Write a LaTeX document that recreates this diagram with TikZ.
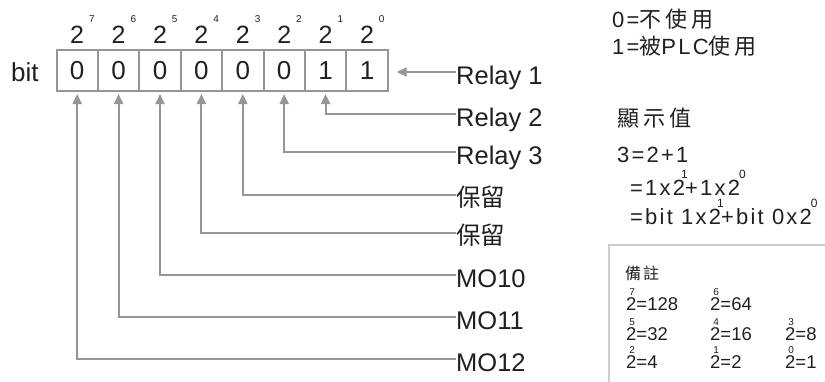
\documentclass[tikz,border=0pt]{standalone}
\usepackage{fontspec}
\setmainfont{Liberation Sans}
\newfontfamily\cjk{Noto Sans CJK TC}
\newfontfamily\rsp[LetterSpace=10]{Liberation Sans}
\newfontfamily\cjksp[LetterSpace=18]{Noto Sans CJK TC}
\usetikzlibrary{arrows.meta}
\definecolor{lg}{RGB}{150,150,150}
\definecolor{lgl}{RGB}{205,205,205}
\definecolor{tx}{RGB}{35,31,32}
\newcommand{\fsz}[1]{\fontsize{#1}{#1}\selectfont}
\newcommand{\supov}[5]{#1\rlap{\kern#2\raisebox{#3}{\fsz{#4}#5}}}
\begin{document}
\begin{tikzpicture}[x=1pt,y=-1pt,
  cell/.style={draw=lg, line width=2pt, minimum width=41.4pt, minimum height=41.5pt, inner sep=0pt, font=\fsz{26}, text=tx},
  conn/.style={draw=lg, line width=2pt, -{Triangle[length=10pt,width=9pt]}},
  lab/.style={anchor=base west, inner sep=0pt, font=\fsz{25.5}, text=tx},
  pow/.style={anchor=base, inner sep=0pt, font=\fsz{25}, text=tx},
  rtxt/.style={anchor=base west, inner sep=0pt, font=\rsp\fsz{22}, text=tx},
  note/.style={anchor=base west, inner sep=0pt, font=\fsz{18.5}, text=tx}]
\useasboundingbox (0,0) rectangle (825,381);
% bit cells
\node[cell] (b7) at (77.2,70.25) {0};
\node[cell] (b6) at (118.6,70.25) {0};
\node[cell] (b5) at (160.0,70.25) {0};
\node[cell] (b4) at (201.4,70.25) {0};
\node[cell] (b3) at (242.8,70.25) {0};
\node[cell] (b2) at (284.2,70.25) {0};
\node[cell] (b1) at (325.6,70.25) {1};
\node[cell] (b0) at (367.0,70.25) {1};
\node[anchor=base west, inner sep=0pt, font=\fsz{26}, text=tx] (bit) at (11,81) {bit};
% powers
\node[pow] (p7) at (77.2,43) {\supov{2}{5pt}{21pt}{10}{7}};
\node[pow] (p6) at (118.6,43) {\supov{2}{5pt}{21pt}{10}{6}};
\node[pow] (p5) at (160.0,43) {\supov{2}{5pt}{21pt}{10}{5}};
\node[pow] (p4) at (201.4,43) {\supov{2}{5pt}{21pt}{10}{4}};
\node[pow] (p3) at (242.8,43) {\supov{2}{5pt}{21pt}{10}{3}};
\node[pow] (p2) at (284.2,43) {\supov{2}{5pt}{21pt}{10}{2}};
\node[pow] (p1) at (325.6,43) {\supov{2}{5pt}{21pt}{10}{1}};
\node[pow] (p0) at (367.0,43) {\supov{2}{5pt}{21pt}{10}{0}};
% label ends
\coordinate (e1) at (456,72);
\coordinate (e2) at (456,114);
\coordinate (e3) at (456,152);
\coordinate (e4) at (456,195);
\coordinate (e5) at (456,233);
\coordinate (e6) at (456,275);
\coordinate (e7) at (456,317);
\coordinate (e8) at (456,359);
\node[lab] (r1) at ([yshift=-12pt]e1) {Relay 1};
\node[lab] (r2) at ([yshift=-12pt]e2) {Relay 2};
\node[lab] (r3) at ([yshift=-12pt]e3) {Relay 3};
\node[lab, font=\cjk\fsz{24.5}] (s1) at ([yshift=-11pt]e4) {保留};
\node[lab, font=\cjk\fsz{24.5}] (s2) at ([yshift=-11pt]e5) {保留};
\node[lab] (m10) at ([yshift=-12pt]e6) {MO10};
\node[lab] (m11) at ([yshift=-12pt]e7) {MO11};
\node[lab] (m12) at ([yshift=-12pt]e8) {MO12};
% connectors
\draw[conn, shorten >=8pt] (e1) -- (b0.east |- e1);
\draw[conn, shorten >=2pt] (e2) -| (b1.south);
\draw[conn, shorten >=2pt] (e3) -| (b2.south);
\draw[conn, shorten >=2pt] (e4) -| (b3.south);
\draw[conn, shorten >=2pt] (e5) -| (b4.south);
\draw[conn, shorten >=2pt] (e6) -| (b5.south);
\draw[conn, shorten >=2pt] (e7) -| (b6.south);
\draw[conn, shorten >=2pt] (e8) -| (b7.south);
% right column
\node[rtxt] (t0) at (612,27) {0=\cjksp 不使用};
\node[rtxt] (t1) at (612,54) {1=\cjksp 被\rsp PLC\cjksp 使用};
\node[rtxt] (t2) at (617,126) {\cjksp 顯示值};
\node[rtxt] (t3) at (617,162) {3=2+1};
\node[rtxt] (t4) at (630,195) {=1x\supov{2}{-4pt}{17pt}{12}{1}+1x\supov{2}{-1pt}{17pt}{12}{0}};
\node[rtxt] (t5) at (630,224) {=bit 1x\supov{2}{-4pt}{17pt}{12}{1}+bit 0x\supov{2}{-1pt}{17pt}{12}{0}};
% note box
\draw[draw=lgl, line width=2pt] (609,382) -- (609,245) -- (826,245);
\node[note, font=\cjk\fsz{16}] (n0) at (625,279) {備\kern2pt 註};
\node[note] (n1) at (626,310) {\supov{2}{-7pt}{15pt}{10}{7}=128};
\node[note] (n2) at (710,310) {\supov{2}{-7pt}{15pt}{10}{6}=64};
\node[note] (n3) at (626,340) {\supov{2}{-7pt}{15pt}{10}{5}=32};
\node[note] (n4) at (710,340) {\supov{2}{-7pt}{15pt}{10}{4}=16};
\node[note] (n5) at (785,340) {\supov{2}{-7pt}{15pt}{10}{3}=8};
\node[note] (n6) at (626,368) {\supov{2}{-7pt}{15pt}{10}{2}=4};
\node[note] (n7) at (710,368) {\supov{2}{-7pt}{15pt}{10}{1}=2};
\node[note] (n8) at (785,368) {\supov{2}{-7pt}{15pt}{10}{0}=1};
\end{tikzpicture}
\end{document}
